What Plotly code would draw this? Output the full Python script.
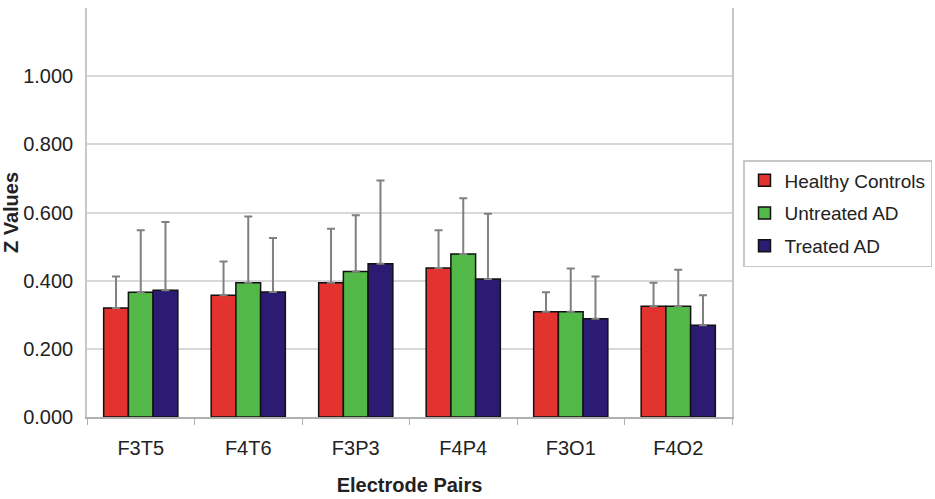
import plotly.graph_objects as go

categories = ["F3T5", "F4T6", "F3P3", "F4P4", "F3O1", "F4O2"]
healthy = [0.320, 0.357, 0.394, 0.437, 0.309, 0.325]
healthy_err = [0.092, 0.099, 0.158, 0.111, 0.057, 0.069]
untreated = [0.366, 0.394, 0.427, 0.478, 0.309, 0.325]
untreated_err = [0.182, 0.194, 0.165, 0.164, 0.127, 0.107]
treated = [0.372, 0.367, 0.450, 0.405, 0.288, 0.269]
treated_err = [0.200, 0.158, 0.244, 0.191, 0.124, 0.088]
y_ticks = [0, 0.2, 0.4, 0.6, 0.8, 1.0]

series = [
    ("Healthy Controls", healthy, healthy_err, "#E2332F"),
    ("Untreated AD", untreated, untreated_err, "#52B848"),
    ("Treated AD", treated, treated_err, "#2B1B72"),
]

fig = go.Figure()
for name, vals, errs, col in series:
    fig.add_trace(go.Bar(
        name=name, x=categories, y=vals, legendgroup=name,
        marker=dict(color=col, line=dict(color="#111111", width=1.5)),
        error_y=dict(type="data", array=errs, symmetric=False,
                     arrayminus=[0]*len(errs), color="#808080",
                     thickness=2, width=4),
    ))

fig.update_layout(
    width=935, height=499,
    margin=dict(l=87, r=203, t=8, b=82, autoexpand=False),
    paper_bgcolor="white", plot_bgcolor="white",
    barmode="group", bargap=0.31, bargroupgap=0,
    font=dict(family="Liberation Sans, Arial, sans-serif", size=20, color="#222222"),
    legend=dict(
        x=(743 - 87) / (732 - 87), xanchor="left", y=1 - (160 - 8) / (417 - 8), yanchor="top",
        bordercolor="#C8C8C8", borderwidth=1.5,
        font=dict(size=19, color="#222222"),
        itemwidth=30, traceorder="grouped", tracegroupgap=5,
    ),
    showlegend=True,
)
fig.update_xaxes(
    type="category", showline=True, linecolor="#B0B0B0", linewidth=1.5,
    ticks="outside", tickson="boundaries", ticklen=6, tickcolor="#B0B0B0",
    ticklabelstandoff=12,
    title=dict(text="<b>Electrode Pairs</b>", font=dict(size=20), standoff=20),
    tickfont=dict(size=20), showgrid=False,
)
fig.update_yaxes(
    range=[0, 1.2], tickvals=y_ticks, tickformat=".3f",
    showgrid=True, gridcolor="#D8D8D8", gridwidth=1.5,
    showline=True, linecolor="#C8C8C8", linewidth=1.5, mirror=True,
    ticks="", zeroline=False, ticklabelstandoff=8,
    title=dict(text="<b>Z Values</b>", font=dict(size=20), standoff=6),
    tickfont=dict(size=20),
)

fig.write_html("out.html")
